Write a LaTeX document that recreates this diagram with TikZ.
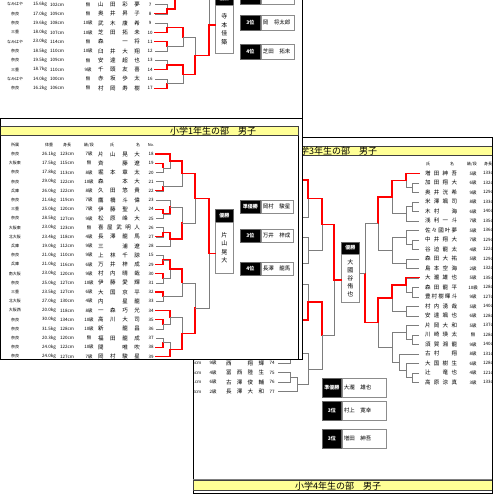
\documentclass[tikz,border=0pt]{standalone}
\usepackage{fontspec}
\setmainfont{Noto Sans CJK JP}
\usetikzlibrary{calc}
\definecolor{barY}{RGB}{255,255,150}
\definecolor{lg}{RGB}{125,125,125}
\newcommand\fs[2]{\fontsize{#1}{#2}\selectfont}
\newcommand\mt[5]{%
  \coordinate (#1a) at (#2 -| #4,0);%
  \coordinate (#1b) at (#3 -| #4,0);%
  \coordinate (#1) at ($(#1a)!.5!(#1b)$);%
  \draw[gl] (#2) -- (#1a) -- (#1b) -- (#3);%
  \ifcase#5\relax\or\draw[rl] (#2) -- (#1a) -- (#1);\or\draw[rl] (#3) -- (#1b) -- (#1);\fi}
\newcommand\res[8]{%
  \node[blk, minimum width=#4, minimum height=#6, anchor=north west] (#1k) at (#2,#3) {#7};%
  \node[wht, minimum width=#5, minimum height=#6, anchor=north west] (#1n) at (#1k.north east) {};%
  \node[rn, anchor=west] (#1t) at ([xshift=2pt]#1n.west) {#8};}
\tikzset{
  gl/.style={draw=lg, line width=0.55pt},
  rl/.style={draw=red, line width=1.3pt, line cap=rect},
  sm/.style={inner sep=0pt, font=\fs{4}{4}},
  nu/.style={inner sep=0pt, font=\fs{4.5}{4.5}},
  nm/.style={inner sep=0pt, font=\fs{5.5}{5.5}},
  rn/.style={inner sep=0pt, font=\fs{5.5}{5.5}},
  pagebox/.style={draw=black, line width=0.9pt, fill=white},
  bar/.style={draw=black!75, line width=0.6pt, fill=barY},
  ttl/.style={inner sep=0pt, font=\fs{9}{9}, anchor=west},
  blk/.style={fill=black, draw=black!60, line width=0.6pt, text=white, inner sep=0pt, font=\fs{5}{5}\bfseries},
  wht/.style={fill=white, draw=black!45, line width=0.7pt, inner sep=0pt},
  vt/.style={align=center},
}
\begin{document}
\begin{tikzpicture}[x=1pt,y=-1pt]
\useasboundingbox (0,0) rectangle (500,500);
\fill[white] (0,0) rectangle (500,500);

% ================= page 1 (back) =================
\draw[pagebox] (-5,-20) rectangle (302,125);
\foreach \j/\a/\w/\h/\k/\n/\no in {
0/なみはや/15.6kg/102cm/無/山 田 彩 夢/7,
1/奈良/17.0kg/109cm/無/奥 井 昇 子/8,
2/奈良/19.6kg/108cm/10級/武 木 康 希/9,
3/三重/18.0kg/107cm/10級/芝 田 拓 未/10,
4/なみはや/23.0kg/114cm/無/森 　 一 将/11,
5/奈良/18.5kg/110cm/10級/臼 井 大 翔/12,
6/奈良/19.5kg/109cm/無/安 達 超 也/13,
7/三重/18.7kg/110cm/9級/千 頭 友 喜/14,
8/なみはや/14.0kg/100cm/無/赤 坂 歩 太/16,
9/奈良/16.2kg/106cm/無/村 岡 寿 樹/17}{
  \pgfmathsetmacro\yy{4.5+9.3*\j}
  \node[sm] (pa\j) at (15,\yy) {\a};
  \node[nu] (pw\j) at (40,\yy) {\w};
  \node[nu] (ph\j) at (57,\yy) {\h};
  \node[nu] (pk\j) at (88,\yy) {\k};
  \node[nm] (pn\j) at (119,\yy) {\makebox[42pt][s]{\n}};
  \node[nu] (pq\j) at (150,\yy) {\no};
  \coordinate (a\j) at (155,\yy);
}
\coordinate (aX) at (155,-20);
\mt{PA}{a0}{a1}{167}{2}
\mt{PZ}{aX}{PA}{175}{2}
\mt{PB}{a2}{a3}{167}{2}
\mt{PC}{a4}{a5}{167}{1}
\mt{PD}{a6}{a7}{167}{2}
\mt{PE}{a8}{a9}{167}{2}
\mt{PBC}{PB}{PC}{183}{1}
\mt{PDE}{PD}{PE}{183}{1}
\mt{PL}{PBC}{PDE}{195}{2}
\mt{PF}{PZ}{PL}{209}{2}
\node[blk, minimum width=18pt, minimum height=13pt, anchor=north west] (w1h) at (215,-8) {優勝};
\node[wht, vt, minimum width=18pt, minimum height=48pt, anchor=north west, font=\fs{6}{8.5}] (w1b) at (215,5) {寺\\本\\佳\\築};
\draw[rl] (PF) -- (PF -| w1b.west);
\res{r11}{240}{-11}{20pt}{33pt}{15pt}{準優勝}{}
\res{r12}{240}{15}{20pt}{33pt}{15pt}{3位}{岡　将太郎}
\res{r13}{240}{44}{20pt}{33pt}{15pt}{4位}{芝田　拓未}

% ================= page 3 (right) =================
\draw[pagebox] (193,137) rectangle (492,493);
\begin{scope}
\clip (193,137) rectangle (492,493);
\draw[bar] (193,146.5) rectangle (492,155.5);
\node[ttl] (t3) at (291,151) {小学3年生の部　男子};
\node[sm] (h3a) at (428,164) {氏};
\node[sm] (h3b) at (452,164) {名};
\node[sm] (h3c) at (472,164) {級/段};
\node[sm, anchor=west] (h3d) at (484,164) {身長};
\foreach \k/\n/\g/\h in {
0/増 田 紳 吾/5級/133cm,
1/加 田 翔 大/6級/132cm,
2/奥 井 洸 希/9級/129cm,
3/米 澤 颯 司/8級/133cm,
4/木 村 　 海/6級/140cm,
5/浅 利 一 斗/7級/135cm,
6/佐 々 國 叶 夢/5級/136cm,
7/中 井 翔 大/7級/129cm,
8/谷 迫 龍 太/4級/122cm,
9/森 田 大 祐/5級/129cm,
10/島 本 空 海/2級/132cm,
11/大 瀧 雄 也/5級/135cm,
12/森 田 龍 平/10級/128cm,
13/豊 村 樹 暉 斗/9級/127cm,
14/村 内 湧 哉/5級/140cm,
15/安 達 颯 也/6級/128cm,
16/片 岡 大 和/5級/137cm,
17/川 崎 瑛 太/無/128cm,
18/須 賀 湘 龍/9級/140cm,
19/古 村 　 翔/8級/131cm,
20/大 国 樹 生/6級/128cm,
21/辻 　 竜 也/4級/121cm,
22/高 原 涼 真/3級/133cm}{
  \pgfmathsetmacro\yy{173.3+9.5*\k}
  \node[nm] (rn\k) at (441,\yy) {\makebox[32pt][s]{\n}};
  \node[nu] (rg\k) at (473,\yy) {\g};
  \node[nu, anchor=west] (rh\k) at (483,\yy) {\h};
  \coordinate (c\k) at (419,\yy);
}
\foreach \no/\h/\g/\n/\yy in {
74/125cm/9級/西 　 翔 輝/363,
75/125cm/4級/冨 西 陸 生/372.5,
76/131cm/6級/古 澤 俊 輔/382,
77/128cm/2級/長 澤 大 和/391.5}{
  \node[nu, anchor=east] (lh\no) at (201.5,\yy) {\h};
  \node[nu] (lg\no) at (213,\yy) {\g};
  \node[nm] (ln\no) at (245,\yy) {\makebox[38pt][s]{\n}};
  \node[nu] (lq\no) at (272,\yy) {\no};
  \coordinate (e\no) at (278,\yy);
}
% right half bracket
\mt{RA1}{c1}{c2}{412}{0}
\mt{RA}{c0}{RA1}{406}{1}
\mt{RB1}{c3}{c4}{412}{0}
\mt{RB}{RB1}{c5}{406}{0}
\mt{RAB}{RA}{RB}{392}{1}
\mt{RC1}{c7}{c8}{412}{0}
\mt{RC}{c6}{RC1}{406}{0}
\mt{RD}{c9}{c10}{406}{0}
\mt{RCD}{RC}{RD}{392}{0}
\mt{RU}{RAB}{RCD}{378}{1}
\mt{RE1}{c12}{c13}{412}{0}
\mt{RE}{c11}{RE1}{406}{1}
\mt{RF}{c14}{c15}{406}{0}
\mt{REF}{RE}{RF}{392}{1}
\mt{RG1}{c17}{c18}{412}{0}
\mt{RG}{c16}{RG1}{406}{0}
\mt{RH1}{c21}{c22}{412}{0}
\mt{RH2}{c20}{RH1}{406}{0}
\mt{RH}{c19}{RH2}{399}{0}
\mt{RGH}{RG}{RH}{392}{0}
\mt{RL}{REF}{RGH}{378}{1}
\mt{RF2}{RU}{RL}{365}{2}
% left half bracket
\coordinate (g1) at (295,180);
\coordinate (g2) at (295,217);
\coordinate (g3) at (295,237);
\coordinate (g4) at (295,263);
\coordinate (g5) at (295,284);
\coordinate (g6) at (295,320);
\coordinate (e73) at (278,344);
\mt{U1}{g1}{g2}{308}{1}
\mt{U2}{g3}{g4}{308}{0}
\mt{UU}{U1}{U2}{322}{1}
\mt{W1}{g5}{g6}{308}{2}
\mt{X1}{e73}{e74}{290}{0}
\mt{X2}{e75}{e76}{290}{0}
\mt{X3}{X2}{e77}{297}{0}
\mt{X4}{X1}{X3}{308}{0}
\mt{WW}{W1}{X4}{322}{1}
\mt{LF}{UU}{WW}{334}{1}
\node[blk, minimum width=18pt, minimum height=11.5pt, anchor=north west] (w3h) at (341,242) {優勝};
\node[wht, vt, minimum width=18pt, minimum height=48.5pt, anchor=north west, font=\fs{6}{7.8}] (w3b) at (341,253.5) {大\\國\\谷\\侑\\也};
\draw[rl] (LF) -- (LF -| w3b.west);
\draw[gl] (RF2) -- (RF2 -| w3b.east);
\res{r31}{322}{378}{19pt}{44pt}{19pt}{準優勝}{大瀧　雄也}
\res{r32}{322}{401}{19pt}{44pt}{19pt}{3位}{村上　寛幸}
\res{r33}{322}{429}{19pt}{44pt}{19pt}{3位}{増田　紳吾}
\draw[black!50, line width=0.5pt] (193,479.3) -- (492,479.3);
\draw[bar] (193,480.7) rectangle (492,490.7);
\node[ttl] (t4) at (295,485.7) {小学4年生の部　男子};
\end{scope}

% ================= page 2 (front) =================
\draw[pagebox] (0.5,118) rectangle (302,359);
\begin{scope}
\clip (0.5,118) rectangle (302,358.5);
\draw[bar] (0.5,126) rectangle (298,135.5);
\draw[line width=0.6pt] (298,135.5) -- (298,359);
\node[ttl] (t2) at (170,130.8) {小学1年生の部　男子};
\node[sm] (h2a) at (15,145) {所属};
\node[sm] (h2b) at (49,145) {体重};
\node[sm] (h2c) at (67,145) {身長};
\node[sm] (h2d) at (89,145) {級/段};
\node[sm] (h2e) at (112,145) {氏};
\node[sm] (h2f) at (138,145) {名};
\node[sm] (h2g) at (151,145) {No.};
\foreach \i/\a/\w/\h/\k/\n/\no in {
0/奈良/26.1kg/123cm/7級/片 山 晃 大/18,
1/大阪東/17.5kg/115cm/無/斉 　 藤 遼/19,
2/奈良/17.8kg/113cm/8級/堀 本 章 太/20,
3/奈良/29.0kg/122cm/10級/森 　 本 大/21,
4/兵庫/26.0kg/122cm/8級/久 田 悠 貴/22,
5/奈良/21.6kg/119cm/7級/鷹 橋 斗 偉/23,
6/三重/25.0kg/120cm/7級/伊 藤 聖 人/24,
7/奈良/28.5kg/127cm/9級/松 原 峰 大/25,
8/大阪東/23.0kg/123cm/無/喜 屋 武 明 人/26,
9/北大阪/23.4kg/118cm/4級/長 澤 龍 馬/27,
10/兵庫/19.0kg/112cm/9級/三 　 浦 遼/28,
11/奈良/21.0kg/110cm/9級/上 林 千 諒/15,
12/兵庫/21.0kg/116cm/6級/万 井 梓 成/29,
13/南大阪/23.0kg/120cm/9級/村 内 晴 哉/30,
14/奈良/25.0kg/127cm/10級/伊 藤 愛 輝/31,
15/三重/23.5kg/127cm/6級/大 国 京 平/32,
16/北大阪/27.0kg/130cm/4級/内 　 星 龍/33,
17/大阪西/20.0kg/118cm/8級/一 森 巧 光/34,
18/奈良/30.0kg/134cm/10級/高 川 大 司/35,
19/奈良/31.5kg/128cm/10級/新 　 龍 昌/36,
20/奈良/20.3kg/120cm/無/福 田 龍 成/37,
21/奈良/24.0kg/122cm/10級/間 　 唯 吹/38,
22/奈良/24.0kg/127cm/7級/岡 村 駿 星/39}{
  \pgfmathsetmacro\yy{154+9.2*\i}
  \node[sm] (sa\i) at (15,\yy) {\a};
  \node[nu] (sw\i) at (49,\yy) {\w};
  \node[nu] (sh\i) at (67,\yy) {\h};
  \node[nu] (sk\i) at (89,\yy) {\k};
  \node[nm] (sn\i) at (119,\yy) {\makebox[42pt][s]{\n}};
  \node[nu] (sq\i) at (151,\yy) {\no};
  \coordinate (b\i) at (156,\yy);
}
\mt{A}{b1}{b2}{163}{1}
\mt{B}{b0}{A}{170}{1}
\mt{C}{b3}{b4}{163}{2}
\mt{Q1}{B}{C}{182}{1}
\mt{D}{b6}{b7}{163}{1}
\mt{E}{b5}{D}{170}{2}
\mt{F}{b8}{b9}{163}{2}
\mt{G}{F}{b10}{170}{1}
\mt{Q2}{E}{G}{182}{2}
\mt{S1}{Q1}{Q2}{195}{1}
\mt{H}{b11}{b12}{163}{2}
\mt{I}{b13}{b14}{163}{1}
\mt{J}{H}{I}{170}{1}
\mt{K}{b15}{b16}{163}{1}
\mt{Q3}{J}{K}{182}{1}
\mt{L}{b18}{b19}{163}{1}
\mt{M}{b17}{L}{170}{1}
\mt{N}{b20}{b21}{163}{2}
\mt{O}{N}{b22}{170}{2}
\mt{Q4}{M}{O}{182}{2}
\mt{S2}{Q3}{Q4}{195}{2}
\mt{FF}{S1}{S2}{209}{1}
\node[blk, minimum width=18pt, minimum height=13pt, anchor=north west] (w2h) at (215,209) {優勝};
\node[wht, vt, minimum width=18pt, minimum height=51pt, anchor=north west, font=\fs{6}{8.5}] (w2b) at (215,222) {片\\山\\晃\\大};
\draw[rl] (FF) -- (FF -| w2b.west);
\res{r21}{240}{200}{20pt}{32pt}{13pt}{準優勝}{岡村　駿星}
\res{r22}{240}{229}{20pt}{32pt}{13pt}{3位}{万井　梓成}
\res{r23}{240}{262}{20pt}{32pt}{13pt}{4位}{長澤　龍馬}
\end{scope}
\end{tikzpicture}
\end{document}
